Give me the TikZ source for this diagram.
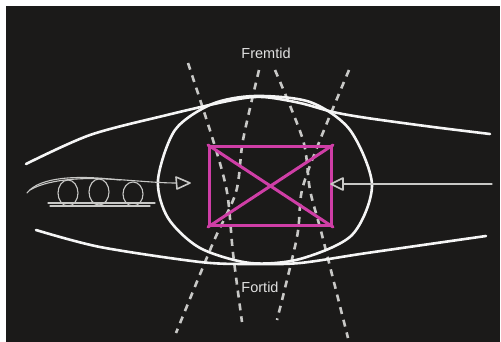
\documentclass[tikz,border=0pt]{standalone}
\usepackage{fontspec}
\setmainfont{Liberation Sans}
\definecolor{board}{RGB}{27,26,25}
\definecolor{chalk}{RGB}{245,245,245}
\definecolor{chalkdim}{RGB}{200,200,198}
\definecolor{pinkline}{RGB}{207,62,166}
\tikzset{
  chalkline/.style={draw=chalk, line width=2.6pt, line cap=round, line join=round},
  thinchalk/.style={draw=chalkdim, line width=1.1pt, line cap=round, line join=round},
  timeline/.style={draw=chalkdim, line width=2.6pt, dash pattern=on 7pt off 6pt},
  pinkbox/.style={draw=pinkline, line width=3pt, line join=round, line cap=round},
  label/.style={text=chalk!92!black, font=\fontsize{14.5}{16}\selectfont, inner sep=0pt},
}
\begin{document}
\begin{tikzpicture}[x=1pt,y=-1pt]
\useasboundingbox (0,0) rectangle (501,342);
\fill[white] (0,0) rectangle (501,342);
\fill[board] (6,6) rectangle (500,342);

% dashed time lines
\draw[timeline] plot[smooth] coordinates {(188,63) (213,140) (227,192) (233,253) (242,322)};
\draw[timeline] plot[smooth] coordinates {(259,70) (243,140) (236,192) (213,243) (176,333)};
\draw[timeline] plot[smooth] coordinates {(275,70) (303,140) (310,190) (322,235) (348,338)};
\draw[timeline] plot[smooth] coordinates {(349,70) (320,140) (302,190) (297,237) (277,320)};

% outer lens curves
\draw[chalkline] plot[smooth] coordinates {(26,164) (90,135) (167,115) (233,100) (263,97) (300,103) (333,112) (367,118) (433,127) (490,134)};
\draw[chalkline] plot[smooth] coordinates {(36,230) (100,247) (200,262) (250,264) (300,263) (367,253) (486,236)};

% egg
\draw[chalkline] plot[smooth cycle] coordinates {(158,180) (175,130) (212,104) (255,96) (310,102) (350,130) (372,185) (352,235) (300,259) (250,263) (200,248) (168,218)};

% pink box
\node[pinkbox, minimum width=122pt, minimum height=79pt, inner sep=0pt, anchor=north west] (box) at (208,145) {};
\draw[pinkbox] (box.north west) -- (box.south east);
\draw[pinkbox] (box.north east) -- (box.south west);

% left arrow with loops
\coordinate (lstart) at (27,193);
\coordinate (ltip) at (190,183);
\draw[thinchalk] (lstart) .. controls (40,176) and (80,176) .. (110,179) .. controls (140,181) and (160,183) .. (176,183);
\draw[thinchalk] (30,190) .. controls (50,178) and (90,177) .. (120,180);
\draw[thinchalk] (68,193) ellipse [x radius=10, y radius=13];
\draw[thinchalk] (99,192) ellipse [x radius=10, y radius=13];
\draw[thinchalk] (133,194) ellipse [x radius=10, y radius=12];
\draw[thinchalk] (48,203) -- (155,203);
\draw[thinchalk] (50,206) -- (150,206);
\draw[thinchalk, line width=1.6pt] (ltip) -- (176,177) -- (177,189) -- cycle;

% right arrow
\coordinate (rstart) at (492,184);
\coordinate (rtip) at (331,184);
\draw[thinchalk] (rstart) -- (344,184);
\draw[thinchalk, line width=1.6pt] (rtip) -- (343,178) -- (343,190) -- cycle;

% labels
\node[label] (fremtid) at (266,53) {Fremtid};
\node[label] (fortid) at (260,287) {Fortid};
\end{tikzpicture}
\end{document}
